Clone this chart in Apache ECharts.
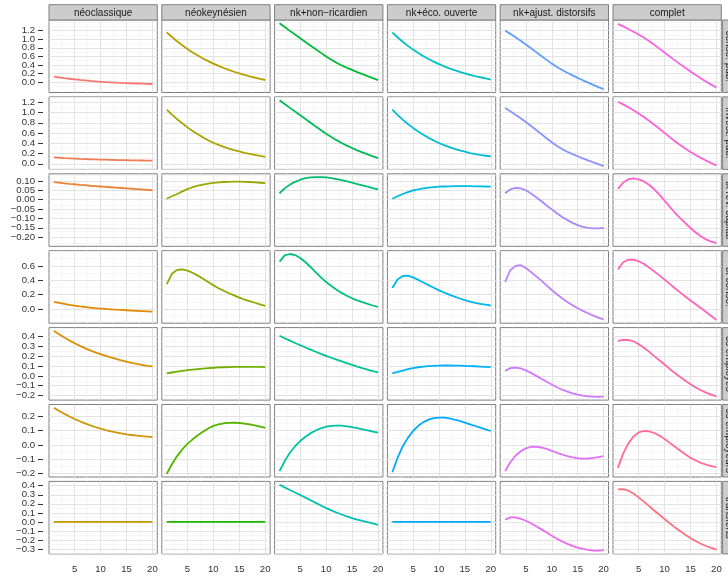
<!DOCTYPE html>
<html><head><meta charset="utf-8">
<script src="https://cdn.jsdelivr.net/npm/echarts@6/dist/echarts.min.js"></script>
<style>html,body{margin:0;padding:0;background:#fff}#c{width:728px;height:578px}</style>
</head><body><div id="c"></div>
<script>
// ---------------- DATA ----------------
const periods = [1,2,3,4,5,6,7,8,9,10,11,12,13,14,15,16,17,18,19,20];
const models = ['néoclassique','néokeynésien','nk+non\u2212ricardien','nk+éco. ouverte','nk+ajust. distorsifs','complet'];
const shocks = ['conso. pub.','invest. pub.','tx rev. capital','tx conso.','cs employés','cs employeurs','transferts'];

// one array per model (column order as in `models`)
const consoPub = [
  [0.128,0.111,0.095,0.080,0.066,0.053,0.042,0.031,0.021,0.012,0.004,-0.003,-0.010,-0.016,-0.021,-0.026,-0.030,-0.034,-0.038,-0.042],
  [1.16,1.051,0.951,0.858,0.772,0.692,0.619,0.552,0.490,0.432,0.379,0.330,0.285,0.243,0.204,0.168,0.135,0.105,0.077,0.051],
  [1.37,1.282,1.194,1.107,1.02,0.934,0.849,0.765,0.682,0.6,0.522,0.452,0.39,0.335,0.286,0.236,0.188,0.141,0.095,0.05],
  [1.16,1.045,0.94,0.845,0.758,0.678,0.605,0.538,0.477,0.421,0.37,0.323,0.281,0.242,0.206,0.173,0.143,0.115,0.089,0.062],
  [1.2,1.124,1.045,0.963,0.878,0.79,0.7,0.609,0.519,0.432,0.354,0.284,0.219,0.158,0.1,0.044,-0.01,-0.062,-0.113,-0.163],
  [1.356,1.298,1.238,1.175,1.109,1.039,0.959,0.872,0.781,0.689,0.598,0.508,0.42,0.334,0.25,0.168,0.089,0.014,-0.056,-0.122]
];
const investPub = [
  [0.125,0.118,0.112,0.107,0.102,0.097,0.093,0.089,0.086,0.083,0.08,0.077,0.074,0.072,0.07,0.068,0.066,0.064,0.062,0.06],
  [1.057,0.96,0.87,0.79,0.71,0.64,0.575,0.515,0.46,0.41,0.37,0.33,0.295,0.265,0.24,0.215,0.195,0.175,0.155,0.135],
  [1.24,1.165,1.09,1.018,0.946,0.872,0.799,0.727,0.656,0.587,0.521,0.461,0.406,0.355,0.307,0.263,0.222,0.183,0.146,0.11],
  [1.057,0.955,0.86,0.775,0.70,0.63,0.565,0.505,0.455,0.405,0.365,0.325,0.29,0.26,0.235,0.21,0.19,0.172,0.157,0.143],
  [1.09,1.024,0.956,0.886,0.814,0.738,0.659,0.579,0.499,0.421,0.349,0.287,0.235,0.189,0.147,0.107,0.068,0.03,-0.008,-0.045],
  [1.21,1.158,1.103,1.044,0.981,0.913,0.84,0.763,0.683,0.602,0.52,0.441,0.366,0.296,0.231,0.171,0.115,0.063,0.015,-0.03]
];
const txRevCapital = [
  [0.093,0.09,0.087,0.084,0.082,0.079,0.077,0.074,0.072,0.07,0.068,0.066,0.064,0.062,0.06,0.058,0.056,0.054,0.052,0.05],
  [0.005,0.018,0.03,0.044,0.056,0.066,0.074,0.08,0.085,0.089,0.092,0.094,0.095,0.096,0.096,0.095,0.094,0.092,0.09,0.088],
  [0.034,0.06,0.08,0.095,0.106,0.114,0.118,0.12,0.12,0.118,0.114,0.109,0.104,0.097,0.09,0.083,0.076,0.069,0.061,0.054],
  [0.005,0.018,0.03,0.04,0.049,0.055,0.06,0.064,0.067,0.069,0.07,0.071,0.072,0.072,0.072,0.072,0.071,0.071,0.07,0.069],
  [0.034,0.055,0.062,0.06,0.05,0.033,0.013,-0.009,-0.031,-0.052,-0.073,-0.092,-0.109,-0.124,-0.136,-0.145,-0.15,-0.153,-0.153,-0.151],
  [0.057,0.09,0.108,0.113,0.108,0.097,0.079,0.055,0.027,-0.005,-0.038,-0.07,-0.098,-0.125,-0.151,-0.175,-0.195,-0.212,-0.224,-0.231]
];
const txConso = [
  [0.10,0.085,0.071,0.059,0.048,0.038,0.029,0.021,0.014,0.008,0.002,-0.003,-0.008,-0.012,-0.016,-0.02,-0.024,-0.028,-0.032,-0.036],
  [0.348,0.49,0.545,0.55,0.535,0.505,0.465,0.42,0.375,0.33,0.29,0.255,0.22,0.19,0.16,0.133,0.11,0.088,0.066,0.046],
  [0.66,0.745,0.765,0.75,0.71,0.65,0.585,0.51,0.44,0.375,0.32,0.27,0.225,0.185,0.15,0.122,0.096,0.072,0.05,0.032],
  [0.293,0.41,0.46,0.465,0.44,0.405,0.37,0.333,0.296,0.26,0.23,0.2,0.173,0.147,0.124,0.105,0.088,0.074,0.061,0.05],
  [0.376,0.54,0.6,0.61,0.57,0.515,0.455,0.395,0.33,0.265,0.205,0.15,0.1,0.055,0.012,-0.025,-0.058,-0.09,-0.118,-0.142],
  [0.55,0.65,0.685,0.686,0.665,0.628,0.578,0.524,0.468,0.41,0.35,0.29,0.232,0.175,0.12,0.068,0.015,-0.04,-0.095,-0.15]
];
const csEmployes = [
  [0.455,0.42,0.388,0.358,0.33,0.304,0.28,0.258,0.238,0.219,0.202,0.186,0.171,0.157,0.144,0.132,0.121,0.111,0.102,0.095],
  [0.024,0.034,0.043,0.051,0.058,0.064,0.069,0.074,0.078,0.082,0.085,0.087,0.089,0.09,0.091,0.091,0.091,0.09,0.09,0.089],
  [0.406,0.381,0.357,0.333,0.31,0.287,0.265,0.244,0.223,0.203,0.183,0.164,0.146,0.128,0.111,0.094,0.078,0.063,0.048,0.036],
  [0.024,0.04,0.054,0.067,0.078,0.087,0.094,0.099,0.102,0.104,0.105,0.105,0.104,0.103,0.101,0.099,0.097,0.094,0.091,0.088],
  [0.05,0.078,0.083,0.075,0.055,0.03,0.0,-0.03,-0.06,-0.088,-0.115,-0.14,-0.16,-0.177,-0.19,-0.2,-0.207,-0.211,-0.212,-0.21],
  [0.355,0.365,0.363,0.35,0.32,0.285,0.245,0.2,0.158,0.115,0.07,0.028,-0.012,-0.05,-0.085,-0.117,-0.146,-0.17,-0.19,-0.207]
];
const csEmployeurs = [
  [0.26,0.238,0.218,0.199,0.182,0.166,0.151,0.138,0.126,0.115,0.105,0.096,0.088,0.081,0.075,0.07,0.066,0.062,0.059,0.056],
  [-0.2,-0.134,-0.077,-0.03,0.008,0.04,0.068,0.093,0.115,0.134,0.145,0.152,0.155,0.156,0.154,0.15,0.144,0.137,0.129,0.12],
  [-0.182,-0.112,-0.054,-0.008,0.028,0.058,0.083,0.102,0.117,0.128,0.134,0.136,0.135,0.131,0.125,0.118,0.11,0.102,0.094,0.086],
  [-0.19,-0.09,-0.01,0.05,0.098,0.134,0.16,0.177,0.188,0.192,0.191,0.186,0.178,0.168,0.157,0.145,0.133,0.121,0.109,0.098],
  [-0.182,-0.12,-0.075,-0.043,-0.023,-0.013,-0.012,-0.017,-0.027,-0.04,-0.054,-0.066,-0.077,-0.086,-0.092,-0.095,-0.094,-0.09,-0.084,-0.077],
  [-0.159,-0.06,0.01,0.06,0.088,0.098,0.095,0.084,0.066,0.042,0.015,-0.012,-0.038,-0.064,-0.088,-0.108,-0.124,-0.137,-0.147,-0.154]
];
const transferts = [
  [0,0,0,0,0,0,0,0,0,0,0,0,0,0,0,0,0,0,0,0],
  [0,0,0,0,0,0,0,0,0,0,0,0,0,0,0,0,0,0,0,0],
  [0.411,0.382,0.353,0.325,0.297,0.268,0.239,0.21,0.181,0.153,0.128,0.104,0.082,0.062,0.043,0.026,0.011,-0.003,-0.017,-0.031],
  [0,0,0,0,0,0,0,0,0,0,0,0,0,0,0,0,0,0,0,0],
  [0.024,0.05,0.05,0.035,0.013,-0.015,-0.047,-0.082,-0.117,-0.152,-0.185,-0.215,-0.242,-0.264,-0.282,-0.297,-0.308,-0.315,-0.316,-0.31],
  [0.36,0.362,0.345,0.313,0.271,0.224,0.175,0.127,0.079,0.032,-0.014,-0.06,-0.1,-0.14,-0.177,-0.21,-0.24,-0.265,-0.286,-0.303]
];

const xTicks = [5,10,15,20];
const xMinorTicks = [2.5,7.5,12.5,17.5];
const yTicksConsoPub = [0,0.2,0.4,0.6,0.8,1.0,1.2];
const yTicksInvestPub = [0,0.2,0.4,0.6,0.8,1.0,1.2];
const yTicksTxRevCapital = [-0.2,-0.15,-0.1,-0.05,0,0.05,0.1];
const yTicksTxConso = [0,0.2,0.4,0.6];
const yTicksCsEmployes = [-0.2,-0.1,0,0.1,0.2,0.3,0.4];
const yTicksCsEmployeurs = [-0.2,-0.1,0,0.1,0.2];
const yTicksTransferts = [-0.3,-0.2,-0.1,0,0.1,0.2,0.3,0.4];

// ---------------- BUILD ----------------
const rowsData = [consoPub, investPub, txRevCapital, txConso, csEmployes, csEmployeurs, transferts];
const rowTicks = [yTicksConsoPub, yTicksInvestPub, yTicksTxRevCapital, yTicksTxConso, yTicksCsEmployes, yTicksCsEmployeurs, yTicksTransferts];
const rowDecimals = [1,1,2,1,1,1,1];

// ggplot2 hue palette (hcl, c=100, l=65)
function hcl2hex(h, c, l) {
  const hr = h * Math.PI / 180;
  const U = c * Math.cos(hr), V = c * Math.sin(hr);
  const XN = 95.047, YN = 100.0, ZN = 108.883;
  const Y = l > 7.999592 ? YN * Math.pow((l + 16) / 116, 3) : YN * l / 903.3;
  const t = XN + YN + ZN;
  const x = XN / t, y = YN / t;
  const un = 2 * x / (6 * y - x + 1.5), vn = 4.5 * y / (6 * y - x + 1.5);
  const u = U / (13 * l) + un, v = V / (13 * l) + vn;
  const X = 9.0 * Y * u / (4 * v);
  const Z = -X / 3 - 5 * Y + 3 * Y / v;
  const g = w => w > 0.00304 ? 1.055 * Math.pow(w, 1 / 2.4) - 0.055 : 12.92 * w;
  const r = g((3.240479 * X - 1.537150 * Y - 0.498535 * Z) / YN);
  const gg = g((-0.969256 * X + 1.875992 * Y + 0.041556 * Z) / YN);
  const b = g((0.055648 * X - 0.204043 * Y + 1.057311 * Z) / YN);
  const hx = w => { const n = Math.round(Math.max(0, Math.min(1, w)) * 255); return n.toString(16).padStart(2, '0'); };
  return '#' + hx(r) + hx(gg) + hx(b);
}
const nPanels = models.length * shocks.length;
function panelColor(col, row) { return hcl2hex(15 + (col * shocks.length + row) * 360 / nPanels, 100, 65); }

const L0 = 49, T0 = 20, PW = 108.3, PH = 72.5, GX = 4.5, GY = 4.4;
const fmt = (v, d) => { if (Math.abs(v) < 1e-9) v = 0; return v.toFixed(d).replace('-', '\u2212'); };
const FONT = 'Liberation Sans, Arial, Helvetica, sans-serif';
const MAJOR = { color: '#e3e3e3', width: 1, type: 'solid' };
const MINOR = { color: '#f3f3f3', width: 0.7, type: 'solid' };

const grids = [], xAxes = [], yAxes = [], series = [], graphics = [];

shocks.forEach((s, r) => {
  const all = [].concat(...rowsData[r]);
  const dmin = Math.min(...all), dmax = Math.max(...all);
  const ext = (dmax - dmin) * 0.05;
  const ymin = dmin - ext, ymax = dmax + ext;
  const ticks = rowTicks[r];
  const step = ticks[1] - ticks[0];
  const minors = [];
  for (let k = -2; k <= (ticks.length - 1) * 2 + 2; k++) {
    const v = Math.round((ticks[0] + k * step / 2) * 1e6) / 1e6;
    if (v >= ymin && v <= ymax) minors.push(v);
  }
  const majors = ticks.filter(v => v >= ymin && v <= ymax);
  // labels split into two interleaved sets so that the library never drops any of them
  const labelsA = majors.filter((v, i) => i % 2 === 0);
  const labelsB = majors.filter((v, i) => i % 2 === 1);

  models.forEach((m, c) => {
    const gi = grids.length;
    const left = L0 + c * (PW + GX), top = T0 + r * (PH + GY);
    grids.push({ left, top, width: PW, height: PH, show: true, backgroundColor: '#fff', borderColor: '#7f7f7f', borderWidth: 1, containLabel: false, z: 0 });
    const bottomRow = r === shocks.length - 1, firstCol = c === 0;
    xAxes.push({ type: 'value', gridIndex: gi, position: 'bottom', min: 0.05, max: 20.95,
      axisLine: { show: false },
      axisTick: { show: bottomRow, customValues: xTicks, length: 4, lineStyle: { color: '#333', width: 1 } },
      axisLabel: { show: bottomRow, customValues: xTicks, fontSize: 9.6, color: '#333', margin: 10, fontFamily: FONT,
        showMinLabel: true, showMaxLabel: true },
      splitLine: { show: false } });
    const labelBase = { fontSize: 9.6, color: '#333', margin: 8, fontFamily: FONT,
      showMinLabel: true, showMaxLabel: true, hideOverlap: false, formatter: v => fmt(v, rowDecimals[r]) };
    yAxes.push({ type: 'value', gridIndex: gi, position: 'left', min: ymin, max: ymax, offset: firstCol ? 6 : 0,
      axisLine: { show: false },
      axisTick: { show: firstCol, customValues: majors, length: 5, lineStyle: { color: '#333', width: 1 } },
      axisLabel: Object.assign({ show: firstCol, customValues: labelsA }, labelBase),
      splitLine: { show: false } });
    yAxes.push({ type: 'value', gridIndex: gi, position: 'left', min: ymin, max: ymax, offset: firstCol ? 6 : 0,
      axisLine: { show: false },
      axisTick: { show: false, customValues: majors },
      axisLabel: Object.assign({ show: firstCol && labelsB.length > 0, customValues: labelsB.length ? labelsB : labelsA }, labelBase),
      splitLine: { show: false } });
    // grid lines (minor then major), placed through the axes' scales
    const lines = [];
    xMinorTicks.forEach(v => lines.push({ xAxis: v, lineStyle: MINOR }));
    minors.forEach(v => lines.push({ yAxis: v, lineStyle: MINOR }));
    xTicks.forEach(v => lines.push({ xAxis: v, lineStyle: MAJOR }));
    majors.forEach(v => lines.push({ yAxis: v, lineStyle: MAJOR }));
    series.push({ type: 'line', xAxisIndex: gi, yAxisIndex: 2 * gi, data: [], silent: true, z: 1,
      markLine: { silent: true, symbol: ['none', 'none'], animation: false, label: { show: false },
        emphasis: { disabled: true }, data: lines } });
    const vals = rowsData[r][c];
    const col = panelColor(c, r);
    series.push({ type: 'line', xAxisIndex: gi, yAxisIndex: 2 * gi, showSymbol: false, symbol: 'none',
      data: periods.map((p, i) => [p, vals[i]]), z: 5,
      lineStyle: { color: col, width: 1.8 }, itemStyle: { color: col } });
  });
});

// strips (facet labels)
models.forEach((m, c) => {
  const left = L0 + c * (PW + GX);
  graphics.push({ type: 'rect', shape: { x: left, y: 4.7, width: PW, height: T0 - 4.7 },
    style: { fill: '#cccccc', stroke: '#7f7f7f', lineWidth: 1 }, z: 10 });
  graphics.push({ type: 'text', x: left + PW / 2, y: 4.7 + (T0 - 4.7) / 2 + 0.5,
    style: { text: m, fill: '#1a1a1a', font: '10px ' + FONT, textAlign: 'center', textVerticalAlign: 'middle' }, z: 11 });
});
const SX = L0 + 6 * PW + 5 * GX + 1.3;
shocks.forEach((s, r) => {
  const top = T0 + r * (PH + GY);
  graphics.push({ type: 'rect', shape: { x: SX, y: top, width: 20, height: PH },
    style: { fill: '#cccccc', stroke: '#7f7f7f', lineWidth: 1 }, z: 10 });
  graphics.push({ type: 'text', x: SX + 6, y: top + PH / 2, rotation: -Math.PI / 2,
    style: { text: s, fill: '#1a1a1a', font: '10px ' + FONT, textAlign: 'center', textVerticalAlign: 'middle' }, z: 11 });
});

const chart = echarts.init(document.getElementById('c'), null, { renderer: 'canvas' });
chart.setOption({
  animation: false,
  backgroundColor: '#ffffff',
  grid: grids, xAxis: xAxes, yAxis: yAxes, series: series,
  graphic: { elements: graphics }
});
</script></body></html>
